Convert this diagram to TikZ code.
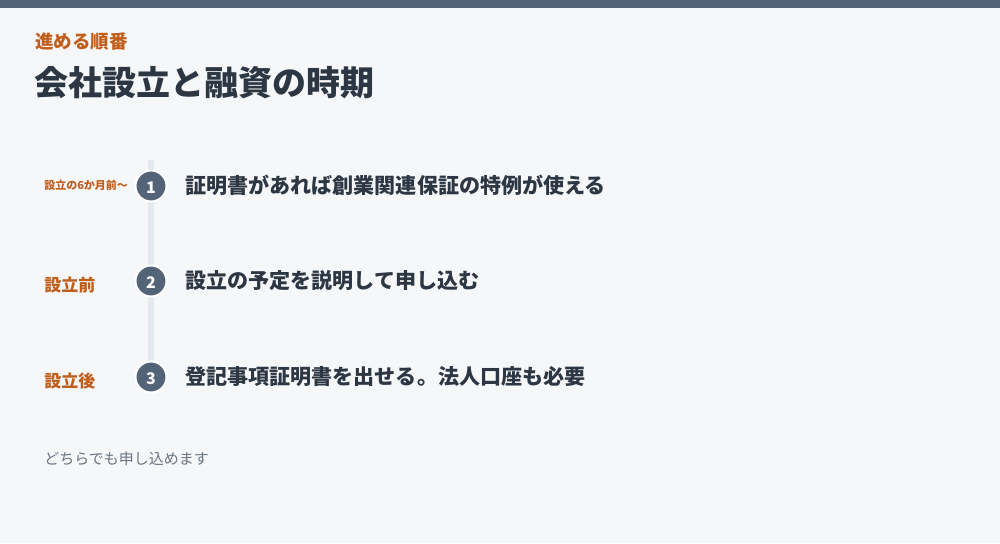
\documentclass[tikz,border=0pt]{standalone}
\usepackage{fontspec}
\setmainfont{Noto Sans CJK JP}
\usetikzlibrary{positioning}
\definecolor{bgpage}{HTML}{F6F7F9}
\definecolor{slate}{HTML}{536479}
\definecolor{inkdark}{HTML}{2D3744}
\definecolor{accent}{HTML}{C25E1C}
\definecolor{railc}{HTML}{E3E9EF}
\definecolor{mutedc}{HTML}{6B7482}
\newcommand{\fsz}[1]{\fontsize{#1pt}{#1pt}\selectfont}
\newcommand{\dnum}[1]{\smash{\raisebox{-5.8pt}{#1}}}

\begin{document}
\begin{tikzpicture}[
    x=0.75pt, y=-0.75pt,
    dot/.style={circle, fill=slate, draw=white, line width=1.5pt, minimum size=23.25pt, inner sep=0pt, text=white, font=\fsz{12}\bfseries},
    when/.style={anchor=west, inner sep=0pt, text=accent, font=\fsz{12.75}\bfseries},
    what/.style={anchor=west, inner sep=0pt, text=inkdark, font=\fsz{15.8}\bfseries}
]
% Page
\useasboundingbox (0,0) rectangle (1000,543);
\fill[bgpage] (0,0) rectangle (1000,543);
\fill[slate] (0,0) rectangle (1000,8);

% Heading
\node[anchor=west, inner sep=0pt, text=accent, font=\fsz{13.875}\bfseries] (kicker) at (35,42) {進める順番};
\node[anchor=west, inner sep=0pt, text=inkdark, font=\fsz{25.5}\bfseries] (title) at (34,83) {会社設立と融資の時期};

% Rail
\fill[railc] (148,160) rectangle (154,390);

% Steps
\node[dot] (s1) at (151,186) {\dnum{1}};
\node[dot] (s2) at (151,281) {\dnum{2}};
\node[dot] (s3) at (151,377) {\dnum{3}};

\node[when, font=\fsz{8.25}\bfseries] (w1) at (44,185) {設立の6か月前〜};
\node[when] (w2) at (44,285) {設立前};
\node[when] (w3) at (44,381) {設立後};

\node[what] (t1) at (185,185) {証明書があれば創業関連保証の特例が使える};
\node[what] (t2) at (185,281) {設立の予定を説明して申し込む};
\node[what] (t3) at (185,377) {登記事項証明書を出せる。法人口座も必要};

% Footnote
\node[anchor=west, inner sep=0pt, text=mutedc, font=\fsz{11.25}] (note) at (44,459) {どちらでも申し込めます};
\end{tikzpicture}
\end{document}
